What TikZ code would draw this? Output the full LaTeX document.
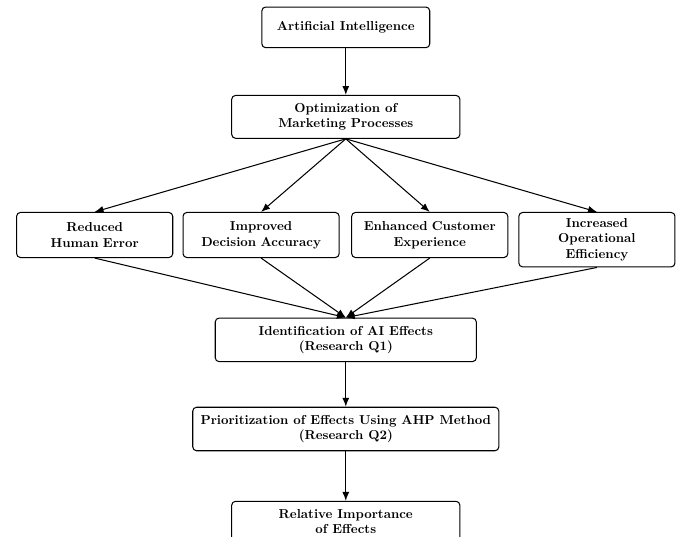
\documentclass[tikz,border=0pt]{standalone}
\usetikzlibrary{arrows.meta}

\begin{document}
\begin{tikzpicture}[>={Latex[length=2.4mm,width=1.9mm]},
        box/.style={draw,thick,rounded corners=3pt,font=\bfseries,align=center,inner sep=6pt},
        effect/.style={box,anchor=north,text width=3.8cm,inner ysep=4.5pt,minimum height=1.22cm}]
            \useasboundingbox (0,0) rectangle (18.36,-14.52);

            \node[box,minimum width=4.54cm,minimum height=1.1cm] (Artificial Intelligence) at (9.35,-0.74) {Artificial Intelligence};
            \node[box,minimum width=6.17cm] (Optimization) at (9.35,-3.16) {Optimization of\\ Marketing Processes};

            \node[effect] (Human Error) at (2.56,-5.73) {Reduced\\ Human Error};
            \node[effect] (Decision Accuracy) at (7.06,-5.73) {Improved\\ Decision Accuracy};
            \node[effect] (Customer Experience) at (11.62,-5.73) {Enhanced Customer\\ Experience};
            \node[effect] (Operational Efficiency) at (16.14,-5.73) {Increased\\ Operational\\ Efficiency};

            \node[box,minimum width=7.06cm] (Identification) at (9.35,-9.19) {Identification of AI Effects\\ (Research Q1)};
            \node[box] (Prioritization) at (9.35,-11.60) {Prioritization of Effects Using AHP Method\\ (Research Q2)};
            \node[box,minimum width=6.17cm] (Relative Importance) at (9.35,-14.1) {Relative Importance\\ of Effects};

            \draw[->,thick] (Artificial Intelligence) to (Optimization);
            \draw[->,thick] (Optimization.south) to (Human Error.north);
            \draw[->,thick] (Optimization.south) to (Decision Accuracy.north);
            \draw[->,thick] (Optimization.south) to (Customer Experience.north);
            \draw[->,thick] (Optimization.south) to (Operational Efficiency.north);
            \draw[->,thick] (Human Error.south) to (Identification.north);
            \draw[->,thick] (Decision Accuracy.south) to (Identification.north);
            \draw[->,thick] (Customer Experience.south) to (Identification.north);
            \draw[->,thick] (Operational Efficiency.south) to (Identification.north);
            \draw[->,thick] (Identification) to (Prioritization);
            \draw[->,thick] (Prioritization) to (Relative Importance);
        \end{tikzpicture}
\end{document}
